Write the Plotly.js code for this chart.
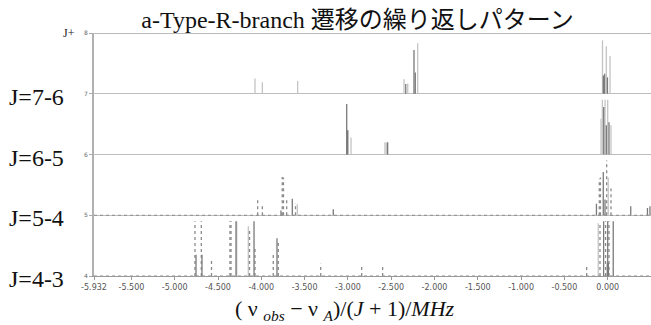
<!DOCTYPE html>
<html>
<head>
<meta charset="utf-8">
<script src="https://cdn.plot.ly/plotly-3.0.1.min.js"></script>
<style>html,body{margin:0;padding:0;background:#fff;}#chart{width:651px;height:325px;}</style>
</head>
<body>
<div id="chart"></div>
<script>
// Tick labels on x axis
const xTickVals = [-5.932, -5.5, -5.0, -4.5, -4.0, -3.5, -3.0, -2.5, -2.0, -1.5, -1.0, -0.5, 0.0, 0.5];
const xTickText = ["-5.932", "-5.500", "-5.000", "-4.500", "-4.000", "-3.500", "-3.000", "-2.500", "-2.000", "-1.500", "-1.000", "-0.500", "0.000", "0.500"];
const levelVals = [4, 5, 6, 7, 8];
const levelNames = ["J=4-3", "J=5-4", "J=6-5", "J=7-6"];
const levelOf = [4, 5, 6, 7];

// Series A (dark solid lines): position, intensity, baseline level J
const seriesA_x = [-2.332, -2.237, -2.222, -0.050, -0.035, -0.003,
  -3.014, -3.005, -2.541, -0.046, -0.016, 0.015,
  -3.773, -3.642, -3.169, -0.130, -0.051, -0.031, 0.266, 0.459, 0.488,
  -4.754, -4.685, -4.292, -4.084, -3.819, -0.047, 0.000, 0.064, -0.005, 0.008];
const seriesA_h = [0.16, 0.72, 0.35, 0.30, 0.33, 0.27,
  0.83, 0.40, 0.20, 0.78, 0.48, 0.53,
  0.08, 0.27, 0.10, 0.19, 0.71, 0.26, 0.15, 0.12, 0.15,
  0.35, 0.35, 0.90, 0.90, 0.62, 0.90, 0.90, 0.90, 0.20, 0.22];
const seriesA_J = [7, 7, 7, 7, 7, 7,
  6, 6, 6, 6, 6, 6,
  5, 5, 5, 5, 5, 5, 5, 5, 5,
  4, 4, 4, 4, 4, 4, 4, 4, 4, 4];

// Series B (light solid lines)
const seriesB_x = [-4.073, -3.988, -3.580, -2.352, -2.309, -2.194, -0.060, -0.016, 0.027,
  -2.996, -2.964, -2.572, -2.555, -0.077, -0.062, -0.031, 0.000, 0.038,
  -3.584, 0.006,
  -4.284, -4.150, -0.109];
const seriesB_h = [0.25, 0.19, 0.21, 0.24, 0.17, 0.83, 0.88, 0.78, 0.62,
  0.40, 0.28, 0.20, 0.20, 0.59, 0.90, 0.90, 0.90, 0.48,
  0.18, 0.62,
  0.90, 0.82, 0.87];
const seriesB_J = [7, 7, 7, 7, 7, 7, 7, 7, 7,
  6, 6, 6, 6, 6, 6, 6, 6, 6,
  5, 5,
  4, 4, 4];

// Series C (dotted lines)
const seriesC_x = [-4.042, -3.988, -3.758, -3.744, -3.707, -3.605, -0.097, -0.084, -0.012, 0.038,
  -4.766, -4.693, -4.575, -4.362, -4.350, -4.136, -4.073, -3.862, -3.804, -3.314, -2.841, -2.599,
  -0.243, -0.089, -0.024, 0.015];
const seriesC_h = [0.27, 0.16, 0.63, 0.62, 0.26, 0.20, 0.60, 0.62, 0.90, 0.44,
  0.90, 0.90, 0.25, 0.90, 0.90, 0.75, 0.47, 0.38, 0.55, 0.20, 0.18, 0.15,
  0.16, 0.85, 0.90, 0.90];
const seriesC_J = [5, 5, 5, 5, 5, 5, 5, 5, 5, 5,
  4, 4, 4, 4, 4, 4, 4, 4, 4, 4, 4, 4,
  4, 4, 4, 4];

function stems(xs, hs, js) {
  const X = [], Y = [];
  for (let i = 0; i < xs.length; i++) {
    X.push(xs[i], xs[i], null);
    Y.push(js[i], js[i] + hs[i], null);
  }
  return {X, Y};
}

const a = stems(seriesA_x, seriesA_h, seriesA_J);
const b = stems(seriesB_x, seriesB_h, seriesB_J);
const c = stems(seriesC_x, seriesC_h, seriesC_J);

const traces = [
  {x: b.X, y: b.Y, type: 'scatter', mode: 'lines', line: {color: '#c4c4c4', width: 1.3}, hoverinfo: 'skip', showlegend: false},
  {x: c.X, y: c.Y, type: 'scatter', mode: 'lines', line: {color: '#8a8a8a', width: 1.3, dash: 'dot'}, hoverinfo: 'skip', showlegend: false},
  {x: a.X, y: a.Y, type: 'scatter', mode: 'lines', line: {color: '#7a7a7a', width: 1.3}, hoverinfo: 'skip', showlegend: false}
];

const serif = 'Liberation Serif, Noto Sans CJK JP, serif';
const annotations = levelNames.map((t, i) => ({
  text: t, xref: 'paper', x: -0.157, xanchor: 'left',
  yref: 'y', y: levelOf[i], yanchor: 'middle', yshift: -3,
  showarrow: false, font: {family: serif, size: 24, color: '#111'}
}));
annotations.push({
  text: 'J+', xref: 'paper', x: -0.03, xanchor: 'right',
  yref: 'y', y: 8, yanchor: 'middle', showarrow: false,
  font: {family: serif, size: 12, color: '#222'}
});
annotations.push({
  text: '( ν <sub><i>obs</i></sub> − ν <sub><i>A</i></sub>)/(<i>J</i> + 1)/<i>MHz</i>',
  xref: 'paper', x: 0.45, xanchor: 'center',
  yref: 'paper', y: -0.14, yanchor: 'middle', showarrow: false,
  font: {family: serif, size: 22, color: '#111'}
});

const layout = {
  width: 651, height: 325,
  margin: {l: 94, r: 0, t: 33, b: 49, pad: 0},
  paper_bgcolor: '#fff', plot_bgcolor: '#fff',
  title: {
    text: 'a-Type-R-branch 遷移の繰り返しパターン',
    font: {family: serif, size: 24, color: '#111'},
    xref: 'paper', x: 0.473, xanchor: 'center',
    yref: 'container', y: 0.94, yanchor: 'middle'
  },
  xaxis: {
    range: [-5.932, 0.5], tickvals: xTickVals, ticktext: xTickText,
    showgrid: false, zeroline: false,
    showline: true, linecolor: '#999', linewidth: 1,
    ticks: 'outside', ticklen: 3, tickcolor: '#999',
    tickfont: {family: 'DejaVu Sans, sans-serif', size: 8, color: '#555'}
  },
  yaxis: {
    range: [4, 8], tickvals: levelVals, ticktext: levelVals.map(String),
    showgrid: true, gridcolor: '#bdbdbd', gridwidth: 1, zeroline: false,
    showline: true, linecolor: '#b0b0b0', linewidth: 2,
    ticks: 'outside', ticklen: 3, tickcolor: '#aaa',
    tickfont: {family: 'DejaVu Sans, sans-serif', size: 6, color: '#666'}
  },
  shapes: [
    {type: 'line', xref: 'paper', x0: 0, x1: 1, yref: 'y', y0: 8, y1: 8, line: {color: '#777', width: 1.2}},
    {type: 'line', xref: 'paper', x0: 0, x1: 1, yref: 'y', y0: 5, y1: 5, line: {color: '#8c8c8c', width: 1.2, dash: 'dot'}},
    {type: 'line', xref: 'paper', x0: 0, x1: 1, yref: 'y', y0: 4, y1: 4, line: {color: '#8c8c8c', width: 1.2, dash: 'dot'}}
  ],
  annotations: annotations
};

Plotly.newPlot('chart', traces, layout, {displayModeBar: false, staticPlot: true});
</script>
</body>
</html>
